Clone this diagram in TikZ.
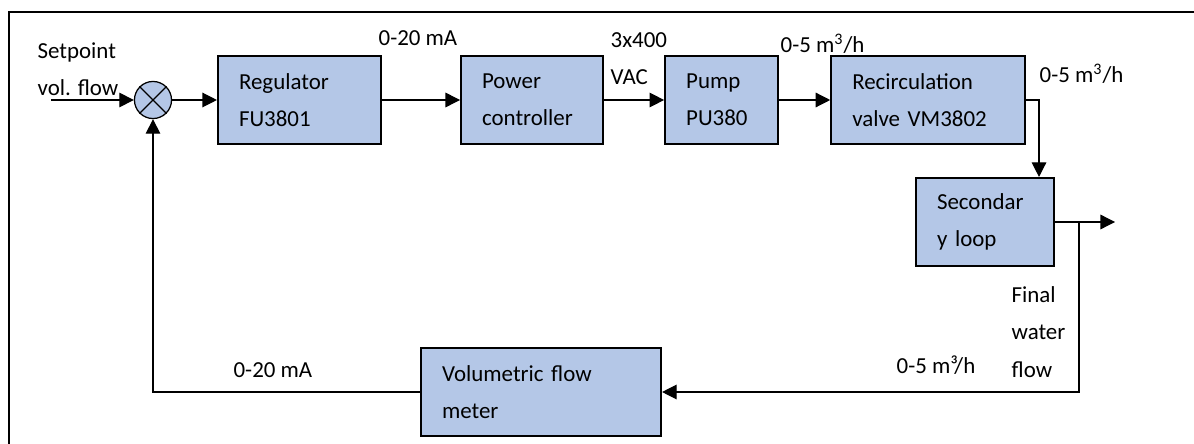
\documentclass[tikz,border=0pt]{standalone}
\usepackage{fontspec}
\setmainfont{Carlito}
\usetikzlibrary{arrows.meta,positioning}
\definecolor{boxblue}{HTML}{B4C7E7}

\begin{document}
\begin{tikzpicture}[
  x=0.48pt, y=-0.48pt,
  blk/.style={draw, line width=1pt, fill=boxblue, align=left, minimum height=42.24pt,
    inner xsep=10.08pt, inner ysep=0pt, font=\fontsize{11}{17.8}\selectfont},
  lbl/.style={inner sep=0pt, anchor=base west, align=left, font=\fontsize{11}{17.8}\selectfont},
  >={Triangle[length=7pt,width=7pt]}, line width=0.6pt]
\useasboundingbox (0,0) rectangle (1194,444);
\draw[line width=1.2pt] (9,12) rectangle (1260,500);
\node[draw, circle, fill=boxblue, minimum size=17.8pt, inner sep=0pt] (sum) at (153,100) {};
\draw (sum.north east) -- (sum.south west) (sum.north west) -- (sum.south east);
\node[blk, text width=58.08pt] (reg) at (299.5,100) {Regulator\\FU3801};
\node[blk, text width=48pt, right=37.44pt of reg] (pow) {Power\\controller};
\node[blk, text width=34.08pt, right=28.8pt of pow] (pump) {Pump\\PU380};
\node[blk, text width=72.96pt, right=24.48pt of pump] (recirc) {Recirculation\\valve VM3802};
\node[blk, text width=46.08pt] (sec) at (985,222) {Secondar\\y loop};
\node[blk, text width=95.04pt] (vol) at (541,392) {Volumetric flow\\meter};
\coordinate (in) at (51,100);
\coordinate (drop) at (1039,100);
\coordinate (tap) at (1079,222);
\coordinate (out) at (1115,222);
\node[lbl] (setpt) at (37,96) {Setpoint\\vol. flow};
\node[lbl] (ma1) at (378,46) {0-20 mA};
\node[lbl] (vac) at (610,85) {3x400\\VAC};
\node[lbl] (q1) at (780,53) {0-5 m\textsuperscript{3}/h};
\node[lbl] (q2) at (1039,83) {0-5 m\textsuperscript{3}/h};
\node[lbl] (fin) at (1011,377) {Final\\water\\flow};
\node[lbl] (q3) at (896,373) {0-5 m³/h};
\node[lbl] (ma2) at (233,377) {0-20 mA};
\draw[->] (in) -- (sum);
\draw[->] (sum) -- (reg);
\draw[->] (reg) -- (pow);
\draw[->] (pow) -- (pump);
\draw[->] (pump) -- (recirc);
\draw[->] (recirc.east) -- (drop) -- (drop |- sec.north);
\draw[->] (sec.east |- out) -- (out);
\draw[->] (tap) |- (vol.east);
\draw[->] (vol.west) -| (sum.south);
\end{tikzpicture}
\end{document}
